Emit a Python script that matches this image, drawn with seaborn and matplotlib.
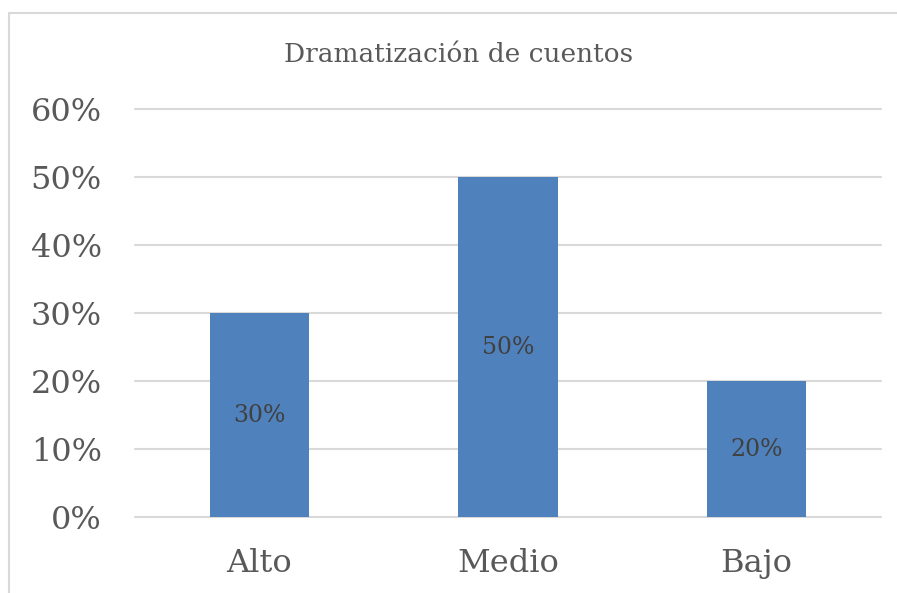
import matplotlib
matplotlib.use("Agg")
import pandas as pd
import seaborn as sns
import matplotlib.pyplot as plt
from matplotlib.patches import Rectangle

# data
categorias = ["Alto", "Medio", "Bajo"]
porcentajes = [0.30, 0.50, 0.20]
etiquetas_y = ["0%", "10%", "20%", "30%", "40%", "50%", "60%"]
titulo = "Dramatización de cuentos"

df = pd.DataFrame({"nivel": categorias, "valor": porcentajes})

sns.set_theme(style="white")
plt.rcParams["font.family"] = ["DejaVu Serif"]

fig = plt.figure(figsize=(8.97, 5.93), dpi=100)
ax = fig.add_axes([135 / 897, 1 - 517 / 593, 746 / 897, 408 / 593])

sns.barplot(data=df, x="nivel", y="valor", color="#4F81BD", width=0.40,
            saturation=1, linewidth=0, ax=ax, zorder=3)

ax.set_xlim(-0.5, 2.5)
ax.set_ylim(0, 0.6)
ticks = [i / 10 for i in range(len(etiquetas_y))]
ax.set_yticks(ticks)
ax.set_yticklabels(etiquetas_y)
ax.yaxis.grid(True, color="#D9D9D9", linewidth=1.5, zorder=0)
for gl in ax.get_ygridlines():
    gl.set_clip_on(False)
ax.set_axisbelow(True)
for s in ax.spines.values():
    s.set_visible(False)
ax.set_xlabel("")
ax.set_ylabel("")
ax.tick_params(axis="y", length=0, pad=24, labelsize=23, labelcolor="#595959")
ax.tick_params(axis="x", length=0, pad=22, labelsize=23, labelcolor="#595959")

# value labels in the middle of each bar
for bar, v in zip(ax.patches, porcentajes):
    ax.text(bar.get_x() + bar.get_width() / 2, v / 2, f"{v:.0%}",
            ha="center", va="center", fontsize=17, color="#404040", zorder=4)

fig.text(459 / 897, 1 - 54 / 593, titulo, ha="center", va="center",
         fontsize=19, color="#595959")

# light frame around the chart area (cut off right and bottom)
fig.patches.append(Rectangle((8.5 / 897, -0.1), 1.2, 1.1 - 13.5 / 593,
                             transform=fig.transFigure, fill=False,
                             edgecolor="#D9D9D9", linewidth=1.5))

fig.savefig("out.png", dpi=100)
